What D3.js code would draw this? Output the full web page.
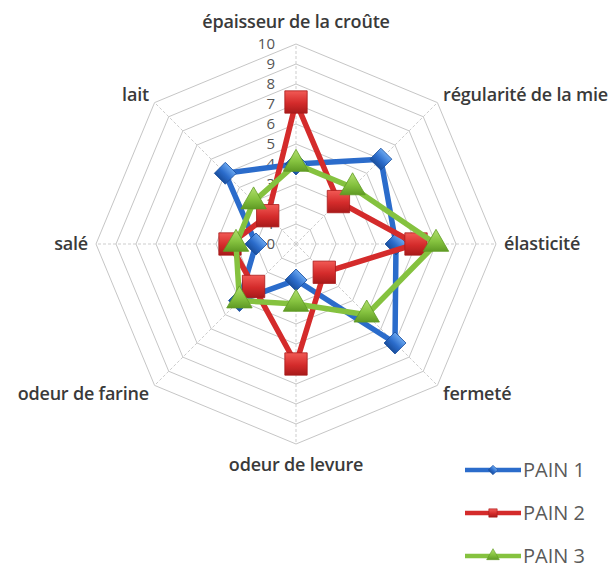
<!DOCTYPE html>
<html>
<head>
<meta charset="utf-8">
<script src="https://cdn.jsdelivr.net/npm/d3@7"></script>
<style>
  html, body { margin: 0; padding: 0; background: #fff; }
  svg { display: block; }
</style>
</head>
<body>
<svg id="chart" width="615" height="569"></svg>
<script>
// Sensory profile of three breads, scored 0–10 on eight criteria
const criteria = ["épaisseur de la croûte", "régularité de la mie", "élasticité", "fermeté",
                  "odeur de levure", "odeur de farine", "salé", "lait"];
const pain1 = [4, 6, 5, 7, 1.8, 4, 2, 5];
const pain2 = [7.1, 3, 6, 2, 6, 3, 3.3, 2];
const pain3 = [4, 4, 7, 5, 3, 4, 3, 3];
const seriesNames = ["PAIN 1", "PAIN 2", "PAIN 3"];
const tickValues = [0, 1, 2, 3, 4, 5, 6, 7, 8, 9, 10];

const svg = d3.select("#chart");
const cx = 296, cy = 244, R = 200;
const r = d3.scaleLinear().domain([0, 10]).range([0, R]);
const step = 2 * Math.PI / criteria.length;
const angle = i => i * step;

const series = [
  { name: seriesNames[0], values: pain1, color: "#2b6ccb", light: "#6aa7f0", dark: "#1a4f9e", shape: "diamond" },
  { name: seriesNames[1], values: pain2, color: "#d42b2b", light: "#f25a55", dark: "#a81a1a", shape: "square" },
  { name: seriesNames[2], values: pain3, color: "#85c23f", light: "#b3e070", dark: "#5f9a24", shape: "triangle" }
];

// marker gradients
const defs = svg.append("defs");
series.forEach((s, k) => {
  const g = defs.append("linearGradient").attr("id", "grad" + k)
    .attr("x1", "0").attr("y1", "0").attr("x2", "0").attr("y2", "1");
  g.append("stop").attr("offset", "0%").attr("stop-color", s.light);
  g.append("stop").attr("offset", "55%").attr("stop-color", s.color);
  g.append("stop").attr("offset", "100%").attr("stop-color", s.dark);
});

const root = svg.append("g").attr("transform", `translate(${cx},${cy})`);

// octagonal grid rings
const ring = d3.lineRadial().angle((d, i) => angle(i)).radius(d => r(d)).curve(d3.curveLinearClosed);
root.append("g").selectAll("path")
  .data(tickValues.filter(t => t > 0))
  .join("path")
  .attr("d", t => ring(criteria.map(() => t)))
  .attr("fill", "none")
  .attr("stroke", "#c6c6c6")
  .attr("stroke-width", 1);

// spokes
root.append("g").selectAll("line")
  .data(criteria)
  .join("line")
  .attr("x1", 0).attr("y1", 0)
  .attr("x2", (d, i) => r(10) * Math.sin(angle(i)))
  .attr("y2", (d, i) => -r(10) * Math.cos(angle(i)))
  .attr("stroke", "#cdcdcd")
  .attr("stroke-width", 1)
  .attr("stroke-dasharray", "3,2");

// tick labels along the top spoke
root.append("g").selectAll("text")
  .data(tickValues)
  .join("text")
  .attr("x", -21)
  .attr("y", t => -r(t))
  .attr("dy", "0.35em")
  .attr("text-anchor", "end")
  .attr("font-family", "'Open Sans', 'Liberation Sans', sans-serif")
  .attr("font-size", 15)
  .attr("fill", "#555")
  .text(t => t);

// criterion labels
const labelPos = (i) => {
  const a = angle(i);
  const s = Math.sin(a), c = Math.cos(a);
  const x = (R + 8) * s, y = -(R + 8) * c;
  let anchor = "middle";
  if (s > 0.1) anchor = "start";
  else if (s < -0.1) anchor = "end";
  const dy = "0.35em";
  if (c > 0.9) return { x: 0, y: -(R + 22), anchor, dy };
  if (c < -0.9) return { x: 0, y: R + 21, anchor, dy };
  if (Math.abs(c) > 0.1) return { x, y: y + (c > 0 ? -2 : 3), anchor, dy };
  return { x, y, anchor, dy };
};
root.append("g").selectAll("text")
  .data(criteria)
  .join("text")
  .each(function (d, i) {
    const p = labelPos(i);
    d3.select(this).attr("x", p.x).attr("y", p.y).attr("dy", p.dy).attr("text-anchor", p.anchor);
  })
  .attr("font-family", "'Open Sans', 'Liberation Sans', sans-serif")
  .attr("font-weight", 600)
  .attr("font-size", 18)
  .attr("letter-spacing", -0.2)
  .attr("fill", "#3a3a3a")
  .text(d => d);

// marker shapes
const symbolFor = (shape, big) => {
  if (shape === "diamond") return d3.symbol(d3.symbolSquare, big ? 240 : 45)();
  if (shape === "square") return d3.symbol(d3.symbolSquare, big ? 500 : 70)();
  return d3.symbol(d3.symbolTriangle, big ? 280 : 70)();
};

// series lines and markers
const line = d3.lineRadial().angle((d, i) => angle(i)).radius(d => r(d)).curve(d3.curveLinearClosed);
series.forEach((s, k) => {
  const g = root.append("g");
  g.append("path")
    .attr("d", line(s.values))
    .attr("fill", "none")
    .attr("stroke", s.color)
    .attr("stroke-width", 5.5)
    .attr("stroke-linejoin", "round");
  g.selectAll("path.m")
    .data(s.values)
    .join("path")
    .attr("class", "m")
    .attr("d", symbolFor(s.shape, true))
    .attr("transform", (d, i) => {
      const x = r(d) * Math.sin(angle(i)), y = -r(d) * Math.cos(angle(i));
      return `translate(${x},${y})` + (s.shape === "diamond" ? " rotate(45)" : "");
    })
    .attr("fill", `url(#grad${k})`)
    .attr("stroke", s.dark)
    .attr("stroke-width", 0.8);
});

// legend
const legend = svg.append("g");
const legendY = [470, 513, 556];
series.forEach((s, k) => {
  const g = legend.append("g").attr("transform", `translate(0,${legendY[k]})`);
  g.append("line").attr("x1", 465).attr("x2", 521).attr("y1", 0).attr("y2", 0)
    .attr("stroke", s.color).attr("stroke-width", 4.5);
  g.append("path")
    .attr("d", symbolFor(s.shape, false))
    .attr("transform", `translate(493,0)` + (s.shape === "diamond" ? " rotate(45)" : ""))
    .attr("fill", `url(#grad${k})`)
    .attr("stroke", s.dark).attr("stroke-width", 0.6);
  g.append("text").attr("x", 523).attr("y", 0).attr("dy", "0.35em")
    .attr("font-family", "'Open Sans', 'Liberation Sans', sans-serif")
    .attr("font-size", 20)
    .attr("fill", "#5a5a5a")
    .text(s.name);
});
</script>
</body>
</html>
